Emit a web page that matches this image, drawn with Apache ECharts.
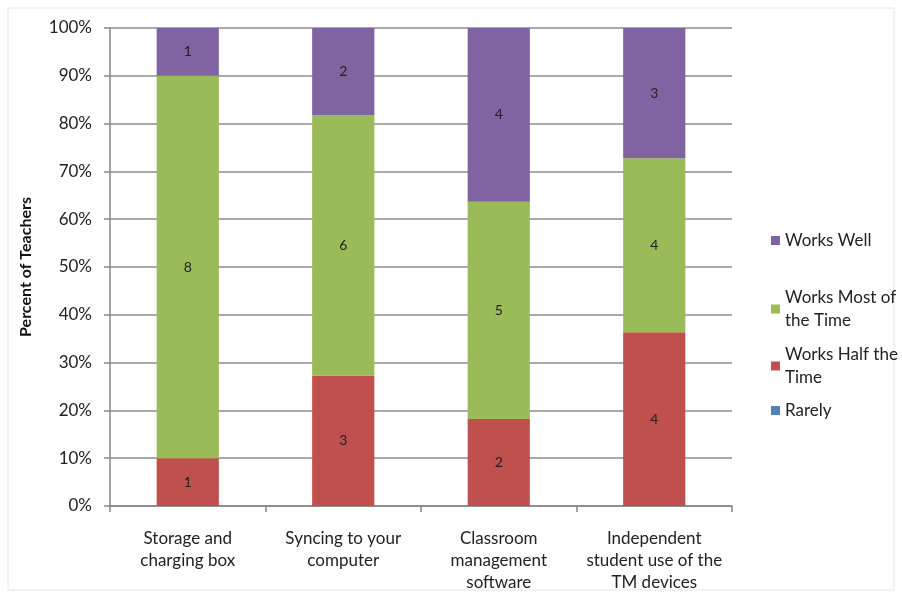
<!DOCTYPE html>
<html>
<head>
<meta charset="utf-8">
<script src="https://cdn.jsdelivr.net/npm/echarts@6/dist/echarts.min.js"></script>
<style>
  html, body { margin: 0; padding: 0; background: #fff; }
  #chart { width: 902px; height: 598px; }
</style>
</head>
<body>
<div id="chart"></div>
<script>
var myChart = echarts.init(document.getElementById('chart'));

// 数据
const categories = [
    'Storage and\ncharging box',
    'Syncing to your\ncomputer',
    'Classroom\nmanagement\nsoftware',
    'Independent\nstudent use of the\nTM devices'
];
const rarely = [0, 0, 0, 0];
const worksHalf = [1, 3, 2, 4];
const worksMost = [8, 6, 5, 4];
const worksWell = [1, 2, 4, 3];
const yTicks = [0, 10, 20, 30, 40, 50, 60, 70, 80, 90, 100];

const totals = categories.map((c, i) => rarely[i] + worksHalf[i] + worksMost[i] + worksWell[i]);
const font = 'Lato, "Open Sans", sans-serif';

function makeSeries(name, counts, color) {
    return {
        name: name,
        type: 'bar',
        stack: 'total',
        barWidth: '40%',
        itemStyle: { color: color },
        label: {
            show: true,
            position: 'inside',
            color: '#222',
            fontFamily: font,
            fontSize: 14,
            formatter: p => counts[p.dataIndex] > 0 ? counts[p.dataIndex] : ''
        },
        data: counts.map((v, i) => v / totals[i] * 100)
    };
}

function legendItem(name, top) {
    return {
        orient: 'vertical',
        left: 766,
        top: top,
        data: [name],
        icon: 'rect',
        itemWidth: 9,
        itemHeight: 9,
        itemGap: 0,
        textStyle: { fontFamily: font, fontSize: 17, color: '#222', lineHeight: 23 },
        selectedMode: false
    };
}

const option = {
    animation: false,
    backgroundColor: '#fff',
    textStyle: { fontFamily: font },
    grid: { left: 110, right: 170, top: 28, bottom: 92 },
    legend: [
        legendItem('Works Well', 224),
        legendItem('Works Most of\nthe Time', 281),
        legendItem('Works Half the\nTime', 338),
        legendItem('Rarely', 394)
    ],
    xAxis: {
        type: 'category',
        data: categories,
        axisLine: { lineStyle: { color: '#868686', width: 1.5 } },
        axisTick: { show: true, length: 6, lineStyle: { color: '#868686', width: 1.5 } },
        axisLabel: { interval: 0, color: '#222', fontSize: 17, lineHeight: 22, margin: 22, fontFamily: font }
    },
    yAxis: {
        type: 'value',
        min: 0,
        max: 100,
        interval: 10,
        name: 'Percent of Teachers',
        nameLocation: 'middle',
        nameGap: 76,
        nameTextStyle: { fontWeight: 'bold', fontSize: 16, color: '#111', fontFamily: font },
        axisLine: { show: true, lineStyle: { color: '#868686', width: 1.5 } },
        axisTick: { show: true, length: 6, lineStyle: { color: '#868686', width: 1.5 } },
        axisLabel: {
            color: '#222', fontSize: 17, margin: 18, fontFamily: font,
            formatter: v => yTicks.indexOf(v) >= 0 ? v + '%' : ''
        },
        splitLine: { lineStyle: { color: '#8c8c8c', width: 1.5 } }
    },
    graphic: [{
        type: 'rect',
        shape: { x: 8, y: 8, width: 886, height: 582 },
        style: { fill: 'none', stroke: '#e6e6e6', lineWidth: 1 },
        silent: true
    }],
    series: [
        makeSeries('Rarely', rarely, '#4F81BD'),
        makeSeries('Works Half the\nTime', worksHalf, '#C0504D'),
        makeSeries('Works Most of\nthe Time', worksMost, '#9BBB59'),
        makeSeries('Works Well', worksWell, '#8064A2')
    ]
};

myChart.setOption(option);
window.addEventListener('resize', function() {
    myChart.resize();
});
</script>
</body>
</html>
